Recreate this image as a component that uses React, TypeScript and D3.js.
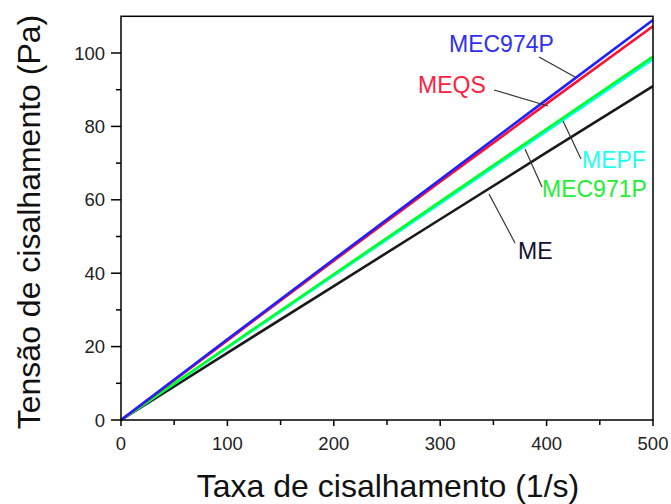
import React from "react";
import * as d3 from "d3";

// Shear rate (1/s) at which stresses were read
const shearRate = [0, 100, 200, 300, 400, 500];

// Shear stress (Pa) for each formulation
const seriesME = [0, 18.3, 36.5, 54.7, 72.9, 91];
const seriesMEPF = [0, 19.7, 39.4, 59.0, 78.7, 98.3];
const seriesMEC971P = [0, 19.9, 39.7, 59.5, 79.3, 99];
const seriesMEQS = [0, 21.7, 43.4, 64.9, 86.2, 107.3];
const seriesMEC974P = [0, 22.0, 43.8, 65.5, 87.3, 109];

const xTicks = [0, 100, 200, 300, 400, 500];
const xMinorTicks = [50, 150, 250, 350, 450];
const yTicks = [0, 20, 40, 60, 80, 100];
const yMinorTicks = [10, 30, 50, 70, 90];

const W = 671;
const H = 504;
const FONT = "'Liberation Sans', Arial, Helvetica, sans-serif";

type Series = {
  name: string;
  values: number[];
  color: string;
  textColor: string;
  label: [number, number];
  leader: [number, number, number, number];
};

// drawn bottom to top
const series: Series[] = [
  { name: "ME", values: seriesME, color: "#1a1a1a", textColor: "#111133", label: [518, 259], leader: [489, 194, 515, 243] },
  { name: "MEPF", values: seriesMEPF, color: "#00ffee", textColor: "#22ffee", label: [582, 168], leader: [563, 121, 581, 159] },
  { name: "MEC971P", values: seriesMEC971P, color: "#00ff22", textColor: "#22ee33", label: [542, 197], leader: [525, 149, 542, 187] },
  { name: "MEQS", values: seriesMEQS, color: "#ff1030", textColor: "#ff2040", label: [418, 93], leader: [494, 90, 548, 106] },
  { name: "MEC974P", values: seriesMEC974P, color: "#2020ff", textColor: "#3030ee", label: [449, 52], leader: [539, 57, 575, 77] },
];

export default function App() {
  const x = d3.scaleLinear().domain([0, 500]).range([121, 653]);
  const y = d3.scaleLinear().domain([0, 110]).range([420, 16.3]);

  const line = (vals: number[]) =>
    d3
      .line<number>()
      .x((_, i) => x(shearRate[i]))
      .y((v) => y(v))(vals) as string;

  return (
    <svg
      width={W}
      height={H}
      style={{ position: "absolute", left: 0, top: 0, background: "#fff" }}
      fontFamily={FONT}
    >
      <rect width={W} height={H} fill="#fff" />

      {/* series lines */}
      {series.map((s) => (
        <path key={s.name} d={line(s.values)} fill="none" stroke={s.color} strokeWidth={2.6} />
      ))}

      {/* leader lines and labels */}
      {series.map((s) => (
        <g key={s.name + "-label"}>
          <line
            x1={s.leader[0]}
            y1={s.leader[1]}
            x2={s.leader[2]}
            y2={s.leader[3]}
            stroke="#333"
            strokeWidth={1.2}
          />
          <text x={s.label[0]} y={s.label[1]} fontSize={23} fill={s.textColor}>
            {s.name}
          </text>
        </g>
      ))}

      {/* frame */}
      <rect
        x={x(0)}
        y={y(110)}
        width={x(500) - x(0)}
        height={y(0) - y(110)}
        fill="none"
        stroke="#000"
        strokeWidth={1.5}
      />

      {/* x axis ticks */}
      {xTicks.map((t) => (
        <g key={"x" + t}>
          <line x1={x(t)} x2={x(t)} y1={y(0)} y2={y(0) + 6} stroke="#000" strokeWidth={1.5} />
          <text x={x(t)} y={450} fontSize={18.5} textAnchor="middle" fill="#222">
            {t}
          </text>
        </g>
      ))}
      {xMinorTicks.map((t) => (
        <line key={"xm" + t} x1={x(t)} x2={x(t)} y1={y(0)} y2={y(0) + 5} stroke="#000" strokeWidth={1.5} />
      ))}

      {/* y axis ticks */}
      {yTicks.map((t) => (
        <g key={"y" + t}>
          <line x1={x(0) - 10} x2={x(0)} y1={y(t)} y2={y(t)} stroke="#000" strokeWidth={1.5} />
          <text x={105} y={y(t) + 6.5} fontSize={18.5} textAnchor="end" fill="#222">
            {t}
          </text>
        </g>
      ))}
      {yMinorTicks.map((t) => (
        <line key={"ym" + t} x1={x(0) - 5} x2={x(0)} y1={y(t)} y2={y(t)} stroke="#000" strokeWidth={1.5} />
      ))}

      {/* axis titles */}
      <text x={388} y={497} fontSize={32} textAnchor="middle" fill="#111">
        Taxa de cisalhamento (1/s)
      </text>
      <text
        transform="translate(40,222) rotate(-90)"
        fontSize={32}
        textAnchor="middle"
        fill="#111"
      >
        Tensão de cisalhamento (Pa)
      </text>
    </svg>
  );
}
